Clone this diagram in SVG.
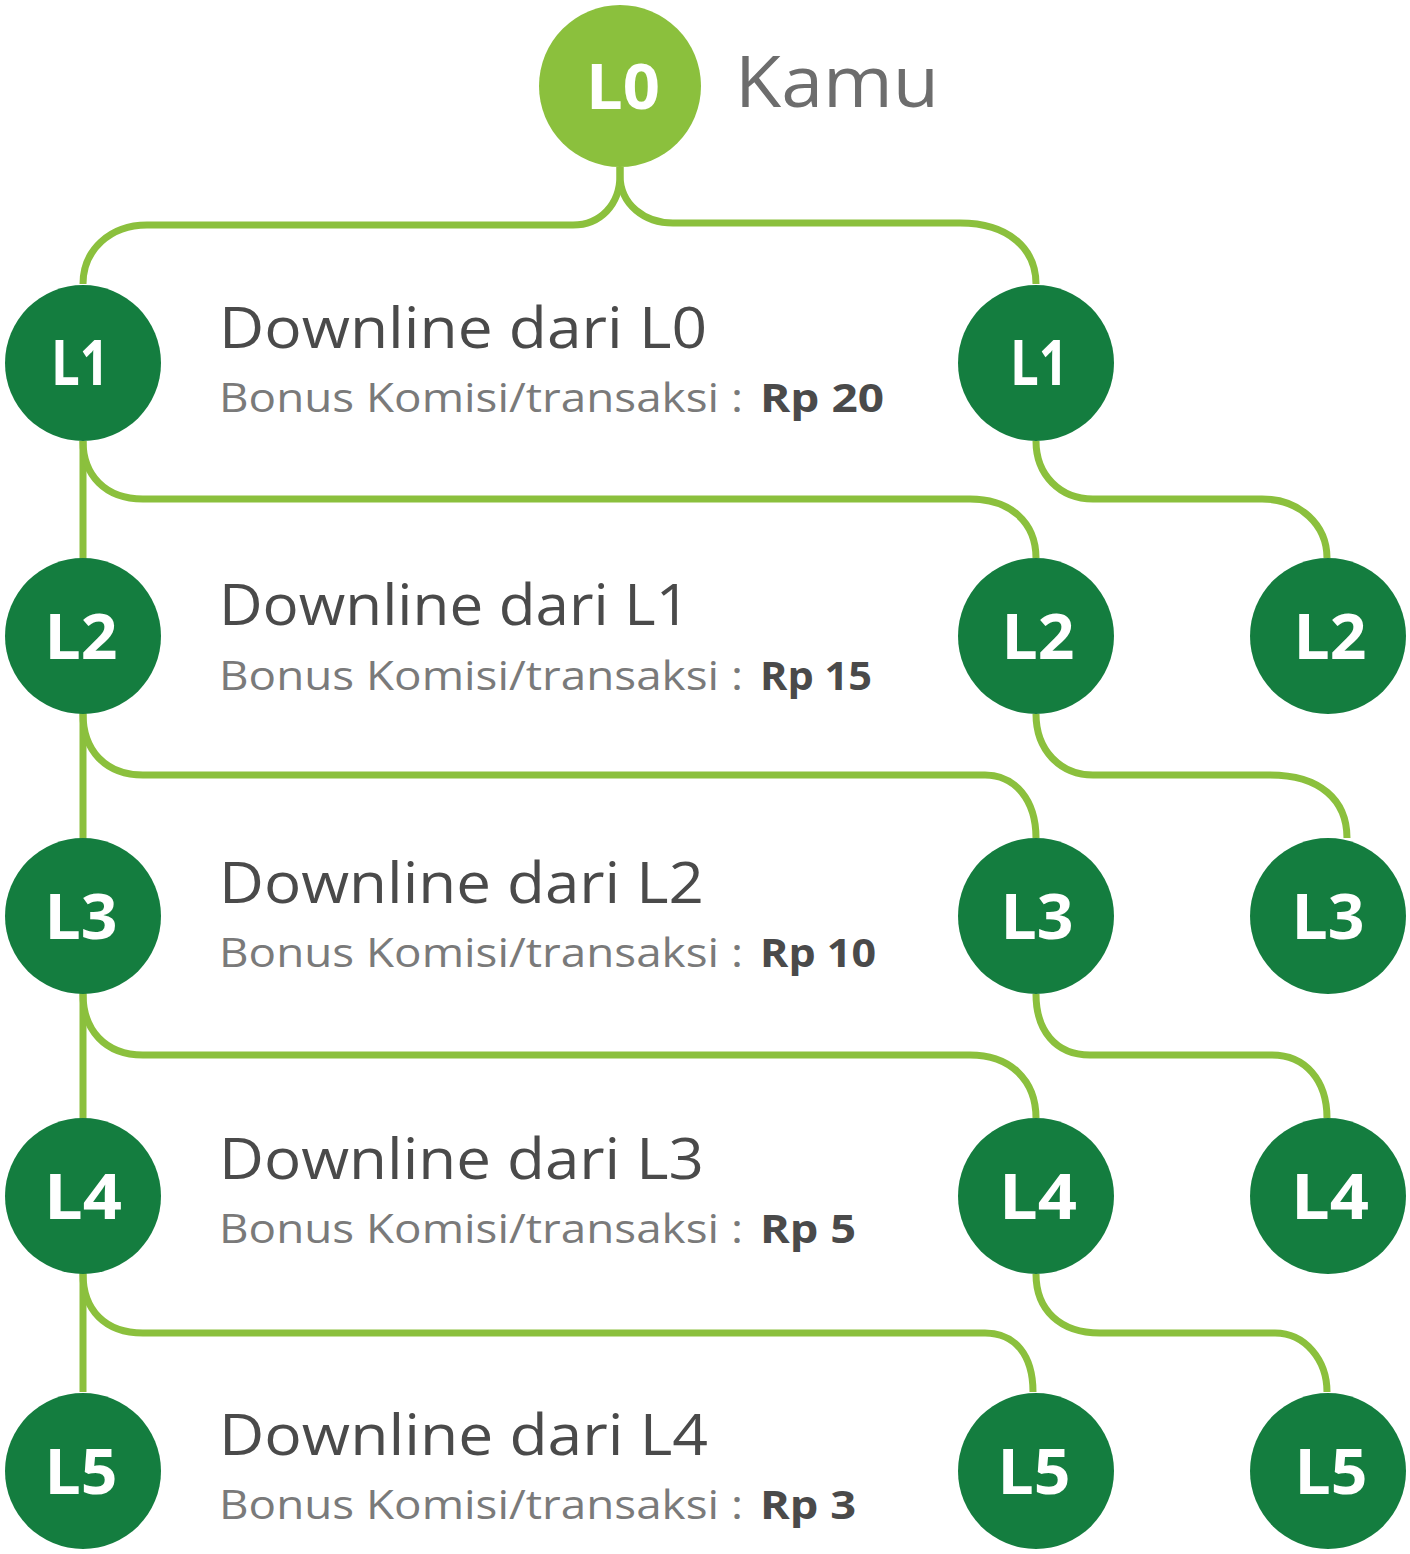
<svg xmlns="http://www.w3.org/2000/svg" width="1410" height="1554" viewBox="0 0 1410 1554">
<style>
.c{fill:#147d3f}
.c0{fill:#8bc03d}
.lbl{font-family:"Open Sans","Liberation Sans",sans-serif;font-weight:700;fill:#ffffff;text-anchor:middle;font-size:62px}
.conn path{fill:none;stroke:#8bc03d;stroke-width:7}
.h{font-family:"Open Sans","Liberation Sans",sans-serif;fill:#4a4a4a;font-size:56px}
.b{font-family:"Open Sans","Liberation Sans",sans-serif;fill:#7a7a7a;font-size:40px}
.rp{font-family:"Open Sans","Liberation Sans",sans-serif;fill:#4a4a4a;font-size:40px;font-weight:700}
</style>
<rect width="1410" height="1554" fill="#ffffff"/>
<g id="connectors" class="conn">
<path d="M620,167 L620,175 C620,205 600,225 573,225 L147,225 C110,225 83,250 83,284"/>
<path d="M620,167 L620,175 C620,205 645,223 673,223 L960,223 C1010,223 1036,250 1036,284"/>
<path d="M83,441 L83,1392"/>
<path d="M83,441 C83,475 105,499 143,499 L970,499 C1010,499 1036,522 1036,558"/>
<path d="M1036,441 C1036,475 1060,499 1093,499 L1262,499 C1300,499 1327,525 1327,558"/>
<path d="M83,714 C83,750 105,775 143,775 L985,775 C1015,775 1036,800 1036,838"/>
<path d="M1036,714 C1036,750 1060,775 1093,775 L1270,775 C1320,775 1347,800 1347,838"/>
<path d="M83,994 C83,1030 105,1055 143,1055 L970,1055 C1010,1055 1036,1080 1036,1118"/>
<path d="M1036,994 C1036,1030 1055,1055 1090,1055 L1272,1055 C1305,1055 1327,1080 1327,1118"/>
<path d="M83,1274 C83,1310 105,1333 143,1333 L985,1333 C1015,1333 1033,1355 1033,1392"/>
<path d="M1036,1274 C1036,1310 1060,1333 1100,1333 L1275,1333 C1305,1333 1327,1360 1327,1392"/>
</g>
<g id="L0"><circle class="c0" cx="620" cy="86" r="81"/><text class="lbl" x="623" y="109" font-size="64" textLength="74" lengthAdjust="spacingAndGlyphs">L0</text></g>
<text x="735" y="107" font-family="Open Sans, Liberation Sans, sans-serif" font-size="72" fill="#6d6d6d" textLength="204" lengthAdjust="spacingAndGlyphs">Kamu</text>

<g id="L1a"><circle class="c" cx="83" cy="363" r="78"/><text class="lbl" x="80" y="385" textLength="58" lengthAdjust="spacingAndGlyphs">L1</text></g>
<g id="L1b"><circle class="c" cx="1036" cy="363" r="78"/><text class="lbl" x="1039" y="385" textLength="58" lengthAdjust="spacingAndGlyphs">L1</text></g>

<g id="L2a"><circle class="c" cx="83" cy="636" r="78"/><text class="lbl" x="81" y="659" textLength="73" lengthAdjust="spacingAndGlyphs">L2</text></g>
<g id="L2b"><circle class="c" cx="1036" cy="636" r="78"/><text class="lbl" x="1038" y="659" textLength="73" lengthAdjust="spacingAndGlyphs">L2</text></g>
<g id="L2c"><circle class="c" cx="1328" cy="636" r="78"/><text class="lbl" x="1330" y="659" textLength="73" lengthAdjust="spacingAndGlyphs">L2</text></g>

<g id="L3a"><circle class="c" cx="83" cy="916" r="78"/><text class="lbl" x="81" y="939" textLength="73" lengthAdjust="spacingAndGlyphs">L3</text></g>
<g id="L3b"><circle class="c" cx="1036" cy="916" r="78"/><text class="lbl" x="1037" y="939" textLength="73" lengthAdjust="spacingAndGlyphs">L3</text></g>
<g id="L3c"><circle class="c" cx="1328" cy="916" r="78"/><text class="lbl" x="1328" y="939" textLength="73" lengthAdjust="spacingAndGlyphs">L3</text></g>

<g id="L4a"><circle class="c" cx="83" cy="1196" r="78"/><text class="lbl" x="83" y="1219" textLength="78" lengthAdjust="spacingAndGlyphs">L4</text></g>
<g id="L4b"><circle class="c" cx="1036" cy="1196" r="78"/><text class="lbl" x="1038" y="1219" textLength="78" lengthAdjust="spacingAndGlyphs">L4</text></g>
<g id="L4c"><circle class="c" cx="1328" cy="1196" r="78"/><text class="lbl" x="1330" y="1219" textLength="78" lengthAdjust="spacingAndGlyphs">L4</text></g>

<g id="L5a"><circle class="c" cx="83" cy="1471" r="78"/><text class="lbl" x="81" y="1494" textLength="73" lengthAdjust="spacingAndGlyphs">L5</text></g>
<g id="L5b"><circle class="c" cx="1036" cy="1471" r="78"/><text class="lbl" x="1034" y="1494" textLength="73" lengthAdjust="spacingAndGlyphs">L5</text></g>
<g id="L5c"><circle class="c" cx="1328" cy="1471" r="78"/><text class="lbl" x="1331" y="1494" textLength="73" lengthAdjust="spacingAndGlyphs">L5</text></g>

<g id="row1">
<text class="h" x="219" y="348" textLength="488" lengthAdjust="spacingAndGlyphs">Downline dari L0</text>
<text class="b" x="219" y="412" textLength="524" lengthAdjust="spacingAndGlyphs">Bonus Komisi/transaksi :</text>
<text class="rp" x="760" y="412" textLength="124" lengthAdjust="spacingAndGlyphs">Rp 20</text>
</g>
<g id="row2">
<text class="h" x="219" y="625" textLength="471" lengthAdjust="spacingAndGlyphs">Downline dari L1</text>
<text class="b" x="219" y="690" textLength="524" lengthAdjust="spacingAndGlyphs">Bonus Komisi/transaksi :</text>
<text class="rp" x="760" y="690" textLength="112" lengthAdjust="spacingAndGlyphs">Rp 15</text>
</g>
<g id="row3">
<text class="h" x="219" y="903" textLength="485" lengthAdjust="spacingAndGlyphs">Downline dari L2</text>
<text class="b" x="219" y="967" textLength="524" lengthAdjust="spacingAndGlyphs">Bonus Komisi/transaksi :</text>
<text class="rp" x="760" y="967" textLength="116" lengthAdjust="spacingAndGlyphs">Rp 10</text>
</g>
<g id="row4">
<text class="h" x="219" y="1179" textLength="485" lengthAdjust="spacingAndGlyphs">Downline dari L3</text>
<text class="b" x="219" y="1243" textLength="524" lengthAdjust="spacingAndGlyphs">Bonus Komisi/transaksi :</text>
<text class="rp" x="760" y="1243" textLength="96" lengthAdjust="spacingAndGlyphs">Rp 5</text>
</g>
<g id="row5">
<text class="h" x="219" y="1455" textLength="489" lengthAdjust="spacingAndGlyphs">Downline dari L4</text>
<text class="b" x="219" y="1519" textLength="524" lengthAdjust="spacingAndGlyphs">Bonus Komisi/transaksi :</text>
<text class="rp" x="760" y="1519" textLength="96" lengthAdjust="spacingAndGlyphs">Rp 3</text>
</g>
</svg>
